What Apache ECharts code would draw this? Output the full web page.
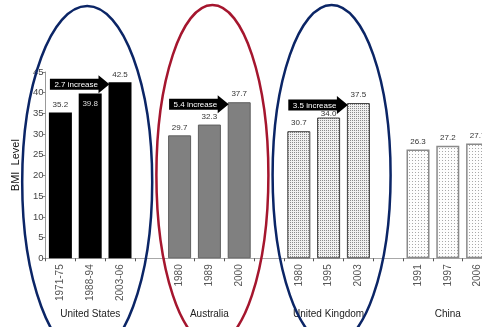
<!DOCTYPE html>
<html>
<head>
<meta charset="utf-8">
<script src="https://cdn.jsdelivr.net/npm/echarts@6/dist/echarts.min.js"></script>
<style>
  html, body { margin: 0; padding: 0; background: #fff; }
  #chart { width: 482px; height: 327px; }
</style>
</head>
<body>
<div id="chart"></div>
<script>
// BMI survey levels by country and survey period
const countries = ['United States', 'Australia', 'United Kingdom', 'China'];
const usYears = ['1971-75', '1988-94', '2003-06'];
const usBmi = [35.2, 39.8, 42.5];
const auYears = ['1980', '1989', '2000'];
const auBmi = [29.7, 32.3, 37.7];
const ukYears = ['1980', '1995', '2003'];
const ukBmi = [30.7, 34.0, 37.5];
const cnYears = ['1991', '1997', '2006'];
const cnBmi = [26.3, 27.2, 27.7];
const increaseLabels = ['2.7 increase', '5.4 increase', '3.5 increase', null];
const yMax = 45;
const yStep = 5;

const groups = [
  { years: usYears, values: usBmi },
  { years: auYears, values: auBmi },
  { years: ukYears, values: ukBmi },
  { years: cnYears, values: cnBmi }
];

const FONT = '"Liberation Sans", Arial, sans-serif';
const BAR_W = 23;

// small repeating dot tiles for the stippled bars
function dotTile(size, dots, ink, paper) {
  const c = document.createElement('canvas');
  c.width = size; c.height = size;
  const g = c.getContext('2d');
  g.fillStyle = paper; g.fillRect(0, 0, size, size);
  g.fillStyle = ink;
  dots.forEach(([x, y]) => g.fillRect(x, y, 1, 1));
  return c;
}
const denseDots = dotTile(2, [[0, 0]], '#8a8a8a', '#f0f0f0');
const sparseDots = dotTile(3, [[1, 1]], '#a8a8a8', '#fdfdfd');

const groupStyles = [
  { color: '#000000', borderColor: '#000000', borderWidth: 0 },
  { color: '#808080', borderColor: '#5e5e5e', borderWidth: 1 },
  { color: { image: denseDots, repeat: 'repeat' }, borderColor: '#3c3c3c', borderWidth: 1 },
  { color: { image: sparseDots, repeat: 'repeat' }, borderColor: '#8a8a8a', borderWidth: 1.5 }
];

// per-bar label tweaks where the arrow sits over the value
const labelTweaks = {
  '0-1': { position: 'insideTop', distance: 6, color: '#dddddd' },
  '2-1': { distance: 0 }
};

// one category slot per survey, one empty slot between countries
const categories = [];
const groupNames = [];
const barData = [];
const arrowData = [];
groups.forEach((grp, gi) => {
  if (gi > 0) {
    categories.push('');
    groupNames.push('');
    barData.push(null);
  }
  const first = categories.length;
  grp.years.forEach((yr, i) => {
    categories.push(yr);
    groupNames.push(i === 1 ? countries[gi] : '');
    const item = {
      value: grp.values[i],
      itemStyle: groupStyles[gi]
    };
    if (labelTweaks[gi + '-' + i]) item.label = labelTweaks[gi + '-' + i];
    barData.push(item);
  });
  const last = categories.length - 1;
  if (increaseLabels[gi]) {
    arrowData.push([first, last, grp.values[grp.values.length - 1], gi]);
  }
});

const chart = echarts.init(document.getElementById('chart'), null, { renderer: 'canvas' });

function renderArrow(params, api) {
  const x0 = api.coord([api.value(0), 0])[0] - BAR_W / 2 + 1;
  const tip = api.coord([api.value(1), 0])[0] - BAR_W / 2 + 1;
  const cy = api.coord([api.value(1), api.value(2)])[1] + 2;
  const sh = 5.5, hh = 9, hl = 11;
  const headX = tip - hl;
  return {
    type: 'group',
    children: [
      {
        type: 'polygon',
        shape: {
          points: [
            [x0, cy - sh], [headX, cy - sh], [headX, cy - hh], [tip, cy],
            [headX, cy + hh], [headX, cy + sh], [x0, cy + sh]
          ]
        },
        style: { fill: '#000' }
      },
      {
        type: 'text',
        style: {
          text: increaseLabels[api.value(3)],
          x: (x0 + headX) / 2 + 2,
          y: cy + 0.5,
          fill: '#ffffff',
          font: '8px ' + FONT,
          align: 'center',
          verticalAlign: 'middle'
        }
      }
    ]
  };
}

chart.setOption({
  animation: false,
  backgroundColor: '#ffffff',
  textStyle: { fontFamily: FONT },
  grid: { left: 45.5, width: 447, top: 72, bottom: 68.7, containLabel: false, outerBoundsMode: 'none' },
  xAxis: [
    {
      type: 'category',
      data: categories,
      boundaryGap: true,
      axisLine: { lineStyle: { color: '#a8a8a8', width: 1 } },
      axisTick: { show: true, interval: 0, length: 3, lineStyle: { color: '#555' } },
      axisLabel: { interval: 0, rotate: 90, fontSize: 10, color: '#555', margin: 6, fontFamily: FONT },
      splitLine: { show: false }
    },
    {
      type: 'category',
      data: groupNames,
      position: 'bottom',
      offset: 45,
      boundaryGap: true,
      axisLine: { show: false },
      axisTick: { show: false },
      axisLabel: { interval: 0, fontSize: 10, color: '#222', margin: 6, fontFamily: FONT },
      splitLine: { show: false }
    }
  ],
  yAxis: {
    type: 'value',
    min: 0,
    max: yMax,
    interval: yStep,
    name: 'BMI  Level',
    nameLocation: 'middle',
    nameGap: 24,
    nameRotate: 90,
    nameTextStyle: { fontSize: 11, color: '#111', fontFamily: FONT },
    axisLine: { show: true, lineStyle: { color: '#999' } },
    axisTick: { show: true, length: 3, lineStyle: { color: '#888' } },
    axisLabel: { fontSize: 9.5, color: '#444', margin: 2, fontFamily: FONT },
    splitLine: { show: false }
  },
  series: [
    {
      type: 'bar',
      xAxisIndex: 0,
      data: barData,
      barWidth: BAR_W,
      label: {
        show: true,
        position: 'top',
        distance: 4,
        fontSize: 8,
        color: '#333',
        fontFamily: FONT,
        formatter: p => p.value.toFixed(1)
      },
      z: 2
    },
    {
      type: 'custom',
      xAxisIndex: 0,
      data: arrowData,
      encode: { x: [0, 1], y: 2 },
      renderItem: renderArrow,
      clip: false,
      z: 5
    }
  ]
});

// outline rings around the first three countries
const rings = [
  { group: 0, dx: -3, cy: 182, rx: 65, ry: 176, color: '#0b2566' },
  { group: 1, dx: 3, cy: 175, rx: 56, ry: 170, color: '#a5162e' },
  { group: 2, dx: 3, cy: 175, rx: 59, ry: 170, color: '#0b2566' }
];
function drawRings() {
  const elements = rings.map(r => {
    const mid = groupNames.indexOf(countries[r.group]);
    const cx = chart.convertToPixel({ xAxisIndex: 0 }, mid) + r.dx;
    return {
      type: 'ellipse',
      shape: { cx: cx, cy: r.cy, rx: r.rx, ry: r.ry },
      style: { fill: null, stroke: r.color, lineWidth: 2.5 },
      z: 100,
      silent: true
    };
  });
  chart.setOption({ graphic: elements });
}
drawRings();
</script>
</body>
</html>
